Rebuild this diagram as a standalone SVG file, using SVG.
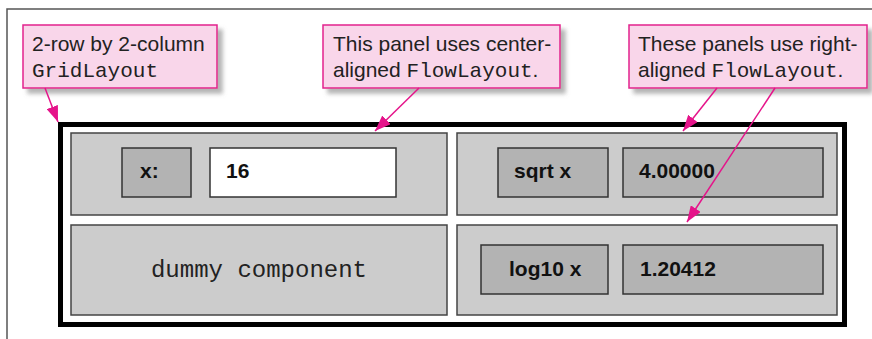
<svg xmlns="http://www.w3.org/2000/svg" width="872" height="339" viewBox="0 0 872 339">
<style>
.sans{font-family:"Liberation Sans",Arial,sans-serif;font-size:21px;fill:#222}
.mono{font-family:"Liberation Mono","Courier New",monospace;font-size:21px;fill:#222}
.call{fill:#f9d6ea;stroke:#e2238d;stroke-width:1.5}
.panel{fill:#cccccc;stroke:#444;stroke-width:1.5}
.lbl{fill:#b3b3b3;stroke:#333;stroke-width:1.5}
.fld{fill:#ffffff;stroke:#333;stroke-width:1.5}
.bold{font-family:"Liberation Sans",Arial,sans-serif;font-size:21px;font-weight:bold;fill:#111}
.conn{stroke:#e5148a;stroke-width:1.5;fill:none}
</style>
<defs>
<filter id="sh" x="-10%" y="-20%" width="130%" height="150%">
<feDropShadow dx="5" dy="5" stdDeviation="2" flood-color="#777" flood-opacity="0.55"/>
</filter>
<marker id="ah" viewBox="0 0 16 12" refX="16" refY="6" markerWidth="16" markerHeight="12" markerUnits="userSpaceOnUse" orient="auto">
<path d="M0,0 L16,6 L0,12 z" fill="#e5148a"/>
</marker>
</defs>
<rect width="872" height="339" fill="#fff"/>
<path d="M7,339 V9 H872" fill="none" stroke="#555" stroke-width="1.5"/>

<g id="frame">
<rect x="60.5" y="124.5" width="784" height="200" fill="#fff" stroke="#000" stroke-width="5"/>
</g>

<g id="panel-input">
<rect class="panel" x="71" y="133" width="376" height="82"/>
<rect class="lbl" x="122" y="148" width="69" height="49"/>
<text class="bold" x="140" y="178">x:</text>
<rect class="fld" x="210" y="148" width="186" height="49"/>
<text class="bold" x="226" y="178">16</text>
</g>

<g id="panel-dummy">
<rect class="panel" x="71" y="225" width="376" height="90"/>
<text class="mono" x="259" y="277" text-anchor="middle" style="font-size:24px">dummy component</text>
</g>

<g id="panel-sqrt">
<rect class="panel" x="457" y="133" width="380" height="82"/>
<rect class="lbl" x="498" y="148" width="110" height="49"/>
<text class="bold" x="514" y="178">sqrt x</text>
<rect class="lbl" x="623" y="148" width="200" height="49"/>
<text class="bold" x="639" y="178">4.00000</text>
</g>

<g id="panel-log">
<rect class="panel" x="457" y="225" width="380" height="90"/>
<rect class="lbl" x="481" y="245" width="127" height="49"/>
<text class="bold" x="509" y="276">log10 x</text>
<rect class="lbl" x="623" y="245" width="200" height="49"/>
<text class="bold" x="640" y="276">1.20412</text>
</g>

<g id="callout-grid">
<rect class="call" x="23" y="25" width="194" height="63" filter="url(#sh)"/>
<text class="sans" x="32" y="51">2-row by 2-column</text>
<text class="mono" x="32" y="77">GridLayout</text>
</g>

<g id="callout-center">
<rect class="call" x="323" y="25" width="237" height="63" filter="url(#sh)"/>
<text class="sans" x="333" y="51">This panel uses center-</text>
<text class="sans" x="333" y="77">aligned <tspan class="mono">FlowLayout</tspan>.</text>
</g>

<g id="callout-right">
<rect class="call" x="629" y="25" width="238" height="63" filter="url(#sh)"/>
<text class="sans" x="638" y="51">These panels use right-</text>
<text class="sans" x="638" y="77">aligned <tspan class="mono">FlowLayout</tspan>.</text>
</g>

<g id="connectors">
<line class="conn" x1="45" y1="88" x2="58" y2="122" marker-end="url(#ah)"/>
<line class="conn" x1="419" y1="88" x2="375" y2="131" marker-end="url(#ah)"/>
<line class="conn" x1="717" y1="88" x2="683" y2="131" marker-end="url(#ah)"/>
<line class="conn" x1="775" y1="88" x2="687" y2="222" marker-end="url(#ah)"/>
</g>
</svg>
